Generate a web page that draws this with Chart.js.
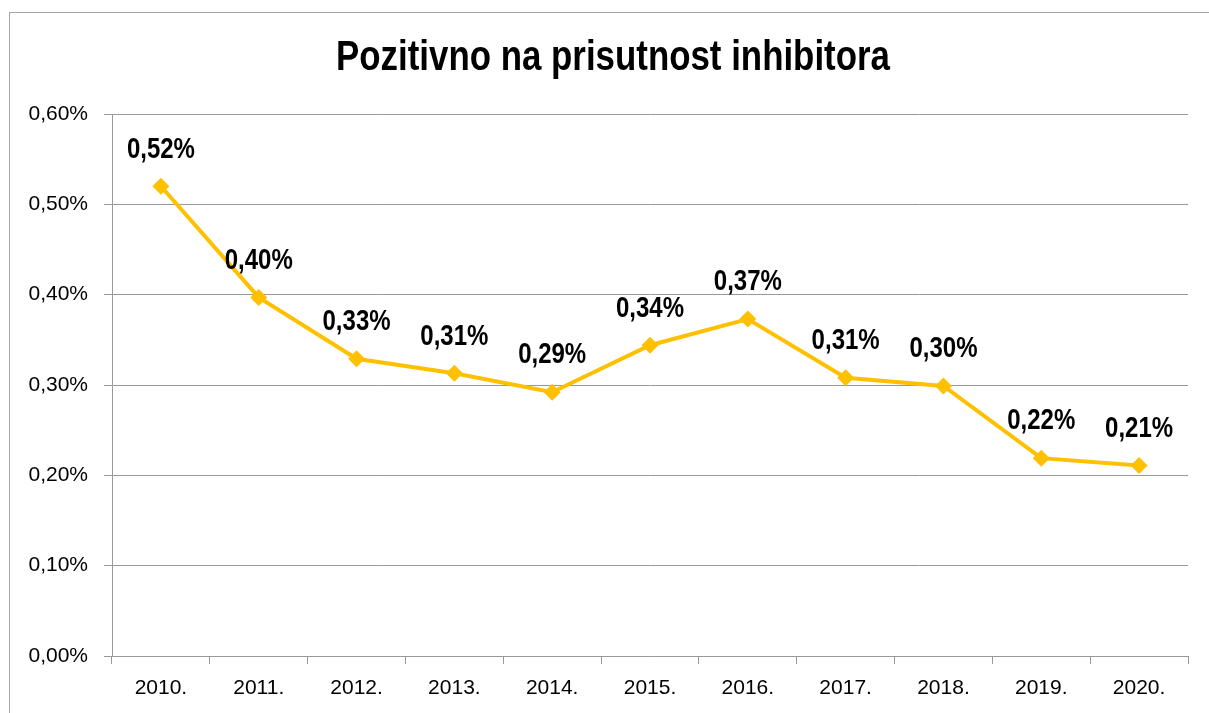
<!DOCTYPE html>
<html>
<head>
<meta charset="utf-8">
<script src="https://cdn.jsdelivr.net/npm/chart.js@4"></script>
<style>
  html, body { margin: 0; padding: 0; background: #fff; }
  #wrap { width: 1209px; height: 713px; position: relative; }
</style>
</head>
<body>
<div id="wrap"><canvas id="inhibitorChart" width="1209" height="713"></canvas></div>
<script>
const godine = ['2010.', '2011.', '2012.', '2013.', '2014.', '2015.', '2016.', '2017.', '2018.', '2019.', '2020.'];
// udio pozitivnih (%)
const pozitivno = [0.52, 0.397, 0.329, 0.313, 0.292, 0.344, 0.373, 0.308, 0.299, 0.219, 0.211];
const naslov = 'Pozitivno na prisutnost inhibitora';

const FONT = "'Liberation Sans', Arial, sans-serif";

function postotak(v) {
    return v.toFixed(2).replace('.', ',') + '%';
}

// tekst sužen vodoravno (kao Arial Narrow)
function uskiTekst(c, tekst, x, y, sx) {
    c.save();
    c.translate(x, y);
    c.scale(sx, 1);
    c.fillText(tekst, 0, 0);
    c.restore();
}

// okvir i naslov
const okvirPlugin = {
    id: 'okvir',
    beforeDraw(chart) {
        const c = chart.ctx;
        c.save();
        c.strokeStyle = '#a6a6a6';
        c.lineWidth = 1;
        c.strokeRect(9.5, 12.5, 1300, 800);
        c.fillStyle = '#000';
        c.font = 'bold 42px ' + FONT;
        c.textAlign = 'center';
        c.textBaseline = 'middle';
        uskiTekst(c, naslov, 613, 58, 0.83);
        c.restore();
    }
};

// oznake vrijednosti iznad točaka
const oznakePlugin = {
    id: 'oznake',
    afterDatasetsDraw(chart) {
        const c = chart.ctx;
        const meta = chart.getDatasetMeta(0);
        c.save();
        c.fillStyle = '#000';
        c.font = 'bold 30px ' + FONT;
        c.textAlign = 'center';
        c.textBaseline = 'middle';
        meta.data.forEach((pt, i) => {
            uskiTekst(c, postotak(pozitivno[i]), pt.x, pt.y - 37, 0.8);
        });
        c.restore();
    }
};

const ctx = document.getElementById('inhibitorChart').getContext('2d');
new Chart(ctx, {
    type: 'line',
    data: {
        labels: godine,
        datasets: [{
            data: pozitivno,
            borderColor: '#FFC000',
            backgroundColor: '#FFC000',
            borderWidth: 4,
            pointStyle: 'rectRot',
            pointRadius: 8.5,
            pointBorderWidth: 0,
            tension: 0,
            fill: false
        }]
    },
    options: {
        responsive: false,
        animation: false,
        layout: { padding: { top: 114, right: 21, left: 0, bottom: 0 } },
        plugins: {
            legend: { display: false },
            title: { display: false },
            tooltip: { enabled: false }
        },
        scales: {
            x: {
                offset: true,
                grid: {
                    offset: true,
                    drawOnChartArea: false,
                    drawTicks: true,
                    tickLength: 8,
                    color: '#999'
                },
                border: { color: '#999', width: 1 },
                ticks: {
                    color: '#000',
                    font: { family: FONT, size: 21 },
                    padding: 12,
                    maxRotation: 0
                },
                afterFit(scale) { scale.height = 57; }
            },
            y: {
                min: 0,
                max: 0.6,
                ticks: {
                    stepSize: 0.1,
                    color: '#000',
                    font: { family: FONT, size: 21 },
                    padding: 16,
                    callback: v => postotak(v)
                },
                grid: {
                    color: '#999',
                    tickLength: 8
                },
                border: { color: '#999', width: 1 },
                afterFit(scale) { scale.width = 112; }
            }
        }
    },
    plugins: [okvirPlugin, oznakePlugin]
});
</script>
</body>
</html>
